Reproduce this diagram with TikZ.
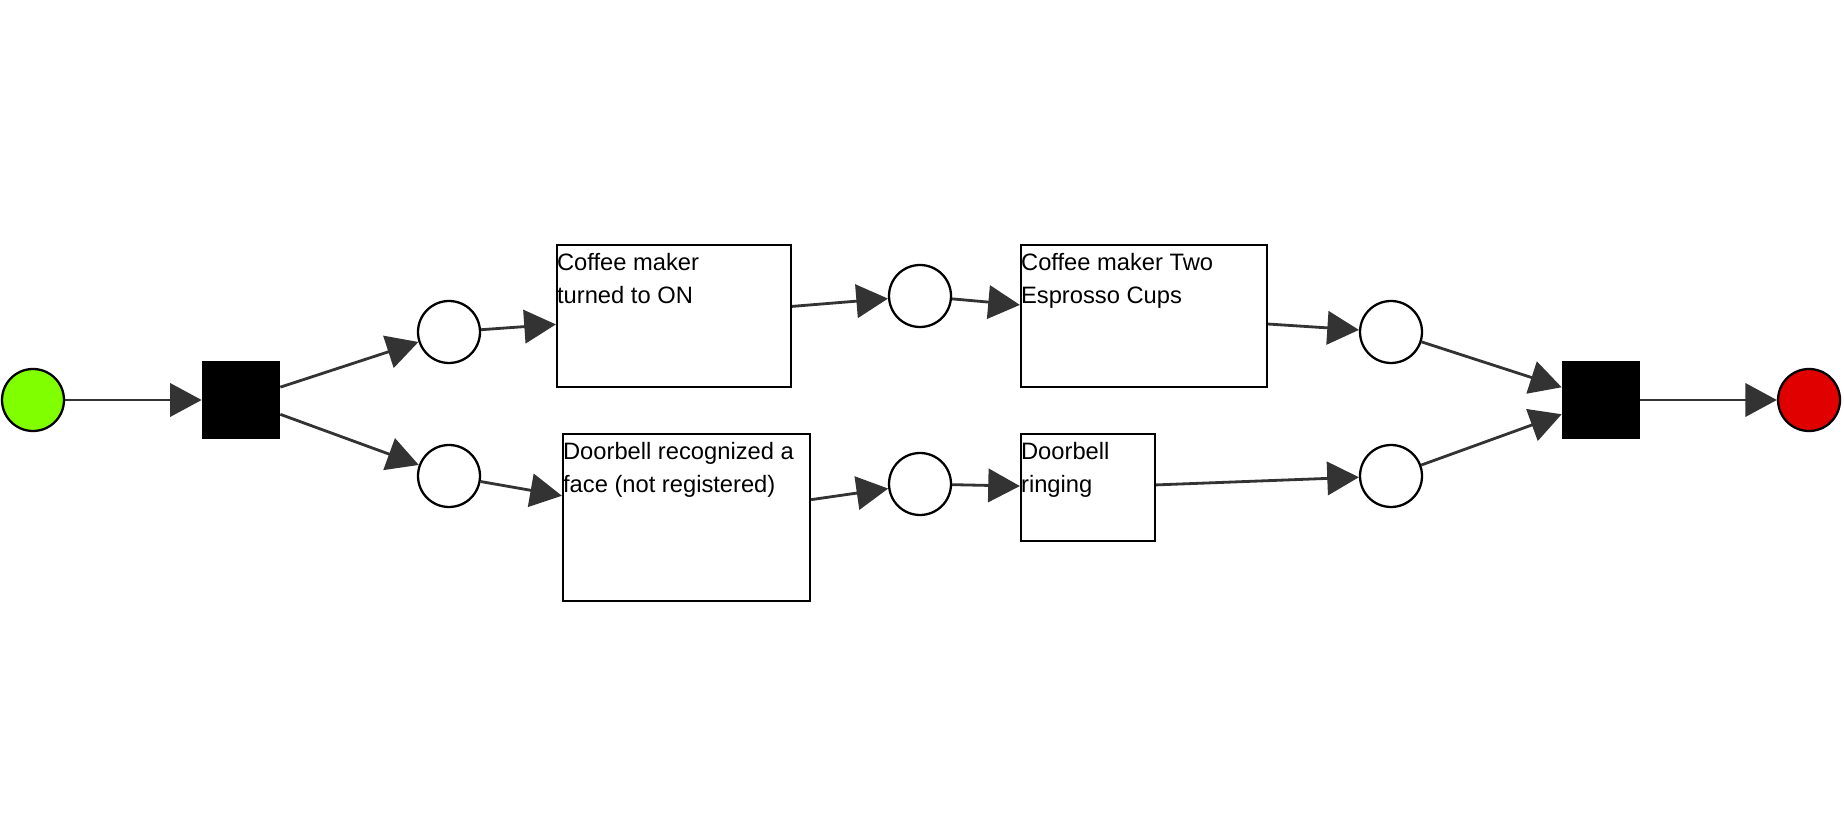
\documentclass[tikz,border=0pt]{standalone}
\usepackage{fontspec}
\setmainfont{Liberation Sans}
\usepackage{xcolor}
\usetikzlibrary{arrows.meta}
\definecolor{startgreen}{HTML}{80FF00}
\definecolor{endred}{HTML}{E00000}
\definecolor{arcgray}{HTML}{333333}

\begin{document}
\begin{tikzpicture}[x=0.02cm,y=-0.02cm,
	place/.style={circle,draw,line width=1.3pt,minimum size=1.24cm,inner sep=0pt},
	trans/.style={rectangle,fill=black,minimum size=1.56cm,inner sep=0pt},
	activity/.style={rectangle,draw,line width=1.3pt,inner sep=0pt},
	tasklabel/.style={anchor=north west,inner xsep=0.5pt,inner ysep=5pt,align=left,
		font=\fontsize{13.5}{18.7}\selectfont},
	arc/.style={-{Triangle[length=18pt,width=19pt]},line width=1.6pt,draw=arcgray}]
			\useasboundingbox (0,0) rectangle (1844,830);
			\node[place,fill=startgreen] (start) at (33,400) {};
			\node[trans] (t1) at (241,400) {};
			\node[place] (p1) at (449,332) {};
			\node[place] (p2) at (449,476) {};
			\node[activity,minimum width=4.68cm,minimum height=2.84cm,
			label={[tasklabel]north west:{Coffee maker\\turned to ON}}] (coffeeon) at (674,316) {};
			\node[activity,minimum width=4.94cm,minimum height=3.34cm,
			label={[tasklabel]north west:{Doorbell recognized a\\face (not registered)}}] (face) at (686.5,517.5) {};
			\node[place] (p3) at (920,296) {};
			\node[place] (p4) at (920,484) {};
			\node[activity,minimum width=4.92cm,minimum height=2.84cm,
			label={[tasklabel]north west:{Coffee maker Two\\Esprosso Cups}}] (espresso) at (1144,316) {};
			\node[activity,minimum width=2.68cm,minimum height=2.14cm,
			label={[tasklabel]north west:{Doorbell\\ringing}}] (ringing) at (1088,487.5) {};
			\node[place] (p5) at (1391,332) {};
			\node[place] (p6) at (1391,476) {};
			\node[trans] (t2) at (1601,400) {};
			\node[place,fill=endred] (end) at (1809,400) {};
			% arcs
			\draw[arc] (start) -- (t1);
			\draw[arc] (t1) -- (p1);
			\draw[arc] (t1) -- (p2);
			\draw[arc] (p1) -- (coffeeon);
			\draw[arc] (p2) -- (face);
			\draw[arc] (coffeeon) -- (p3);
			\draw[arc] (face) -- (p4);
			\draw[arc] (p3) -- (espresso);
			\draw[arc] (p4) -- (ringing);
			\draw[arc] (espresso) -- (p5);
			\draw[arc] (ringing) -- (p6);
			\draw[arc] (p5) -- (t2);
			\draw[arc] (p6) -- (t2);
			\draw[arc] (t2) -- (end);
		\end{tikzpicture}
\end{document}
